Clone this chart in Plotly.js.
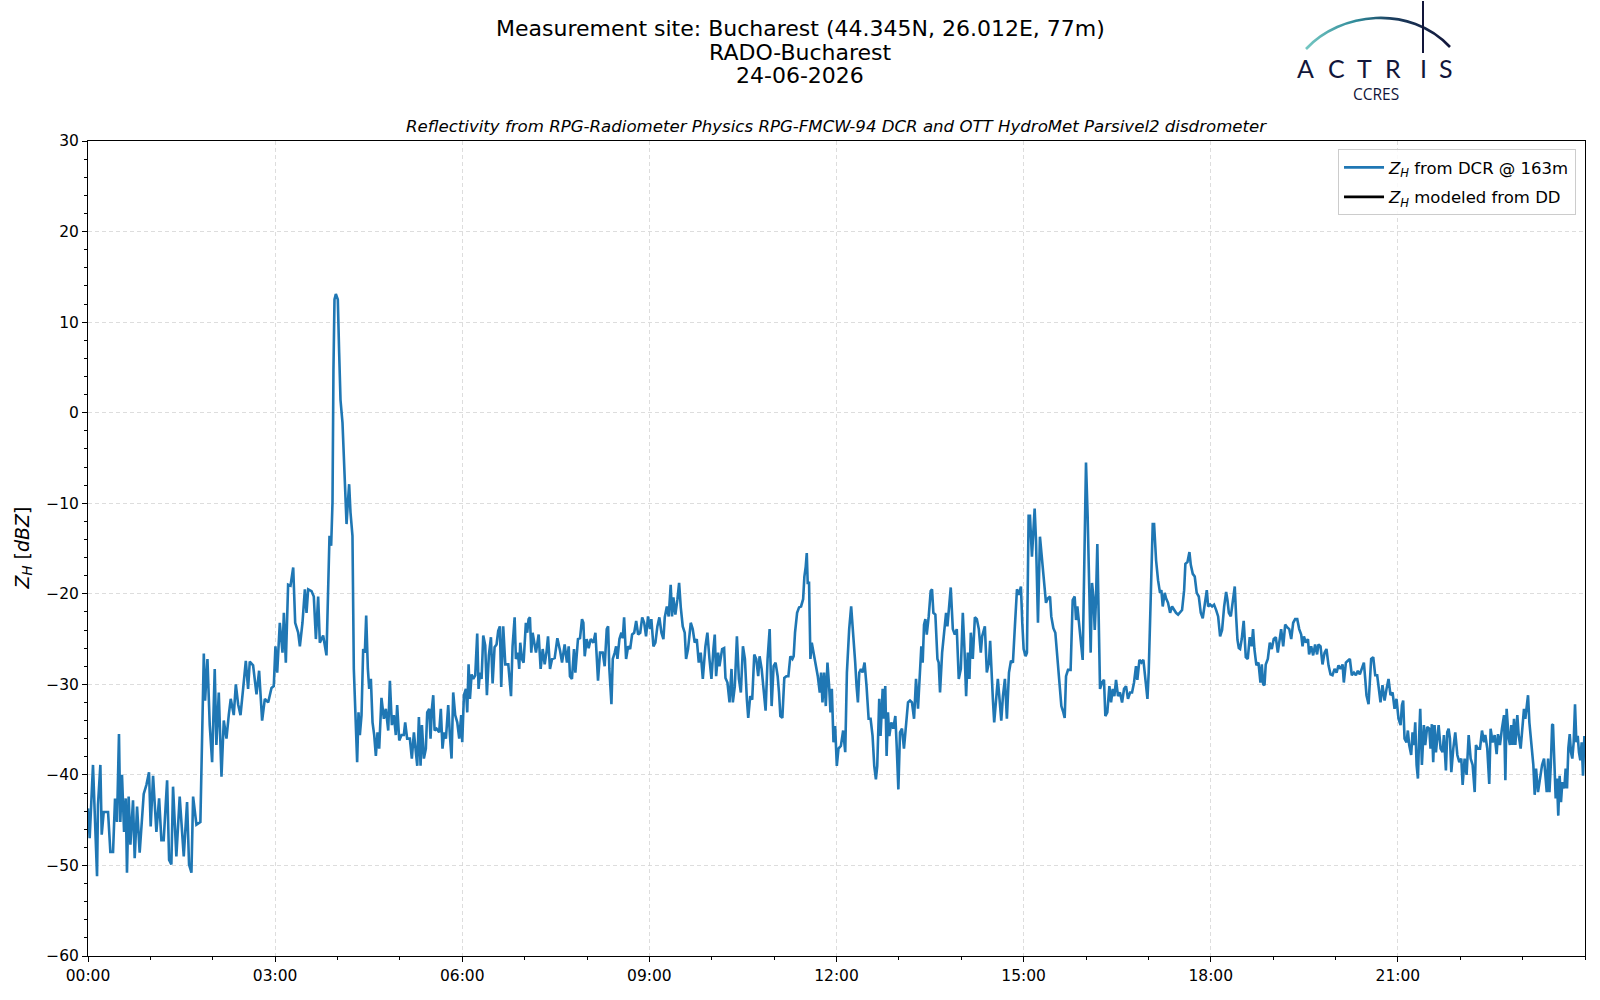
<!DOCTYPE html>
<html>
<head>
<meta charset="utf-8">
<script src="https://cdn.plot.ly/plotly-3.0.1.min.js"></script>
<style>
  html, body { margin: 0; padding: 0; background: #fff; }
  #chart { width: 1600px; height: 1000px; }
</style>
</head>
<body>
<div id="chart"></div>
<script>
// ===== Data =====
const DAY = '2026-06-24';

// minutes after 00:00 UTC
const timeMin = [
  0, 1.6, 4.8, 6.4, 8.7, 9.6, 11.9, 13.2, 15.1, 19.3,
  21.5, 24.1, 26.0, 27.9, 29.8, 31.1, 32.7, 34.7, 36.3, 37.5,
  39.1, 40.8, 43.3, 44.9, 47.2, 49.7, 53.6, 56.2, 58.7, 60.3,
  62.6, 65.8, 68.4, 70.6, 72.8, 76.1, 78.0, 80.2, 81.8, 85.0,
  88.2, 92.1, 95.3, 97.2, 99.5, 101.1, 104.3, 108.1, 109.4, 111.4,
  112.6, 114.9, 117.1, 119.4, 121.9, 123.5, 125.8, 128.4, 130.6, 133.2,
  135.4, 137.3, 140.2, 142.2, 144.4, 146.7, 149.2, 151.8, 154.0, 155.6,
  158.8, 162.1, 164.6, 167.5, 170.1, 173.3, 176.5, 178.7, 180.3, 182.0,
  184.5, 187.1, 188.4, 190.3, 192.5, 194.8, 197.4, 199.3, 202.2, 203.8,
  206.3, 208.6, 210.2, 211.8, 215.0, 217.2, 219.2, 221.4, 223.0, 226.2,
  229.4, 232.3, 233.9,
  235.2, 236.1, 237.1, 238.4, 240.3, 241.6, 242.9, 244.8, 246.1, 247.4,
  248.7, 250.0, 251.2, 252.5, 254.4, 255.7, 257.3, 258.9, 260.2, 261.5,
  263.1, 264.7, 266.3, 267.6, 269.2, 270.5, 272.1, 273.7, 275.3, 276.9,
  278.5, 280.1, 282.3, 284.6, 286.5, 288.8, 290.4, 292.3, 294.2, 296.1,
  297.4, 299.4, 301.6, 303.8, 305.1, 307.0, 309.6, 311.5, 313.5, 315.4,
  316.7, 318.3, 319.9, 321.2, 323.1, 325.0, 326.3, 328.2, 329.5, 330.8,
  332.1, 333.4, 335.3, 337.8, 339.4, 341.0, 342.6, 344.3, 346.5, 348.1,
  349.7, 351.3, 353.2, 355.2, 357.1, 359.0, 360.0, 361.6, 363.5, 364.8,
  366.1, 367.4, 369.0, 370.6, 372.5, 374.4, 375.7, 377.0, 378.6, 380.2,
  382.1, 383.7, 385.6, 387.6, 389.2, 391.1, 393.0, 394.6, 396.2, 397.5,
  399.4, 401.4, 404.3,
  406.9, 408.4, 410.4, 411.6, 413.6, 414.8, 415.8, 417.4, 419.0, 421.2,
  422.5, 423.8, 425.1, 426.4, 427.7, 429.7, 430.9, 433.5, 435.4, 437.4,
  439.3, 441.2, 442.5, 444.4, 446.4, 448.9, 451.5, 454.1, 456.0, 458.5,
  460.7, 462.4, 463.6, 465.5, 467.5, 468.8, 471.3, 473.3, 475.2, 476.5,
  477.8, 479.7, 481.6, 483.6, 486.1, 488.1, 490.6, 492.5, 495.1, 497.0,
  499.0, 500.3, 501.5, 503.5, 504.8, 506.7, 508.0, 509.3, 511.2, 513.1,
  514.4, 515.7, 517.6, 519.6, 521.5, 523.4, 525.4, 527.3, 529.2, 531.2,
  533.1, 535.0, 536.8, 538.7, 540.6, 541.9, 543.9, 545.8, 547.7, 549.6,
  551.6, 553.5, 554.8, 556.8, 558.6, 560.5, 561.8, 563.1, 565.0, 567.0,
  568.6, 570.2, 572.1, 574.0, 575.3, 577.2, 579.8, 581.7, 583.6, 585.6,
  587.5, 589.4, 591.4, 593.9, 595.8, 597.8, 599.7, 601.6, 602.9, 604.2,
  606.1, 607.4, 610.0, 611.9, 613.2, 615.1, 617.1, 619.0, 620.3, 622.2,
  624.2, 626.1, 628.0, 630.0, 631.9, 633.8, 635.1, 637.0, 638.9, 640.9,
  642.8, 644.7, 646.0, 648.0, 649.9, 651.8, 653.7, 655.7, 657.6, 659.5,
  661.4, 663.4, 664.7, 666.0, 667.9, 669.8, 671.8, 673.7, 675.6, 677.6,
  678.8, 680.1, 682.1, 684.0, 685.9, 687.9, 689.1, 690.4, 691.4, 692.3,
  693.6, 694.9, 696.2, 698.1, 700.0, 702.0,
  703.9, 705.2, 706.5, 708.1, 709.7, 711.3, 712.9, 714.2, 715.5, 717.1,
  718.7, 720.3, 721.9, 724.2, 726.4, 728.4, 730.0, 732.2, 734.1, 736.1,
  738.0, 739.3, 740.6, 741.9, 743.5, 745.1, 747.0, 748.9, 750.9, 752.8,
  754.7, 756.3, 757.9, 759.2, 761.1, 762.4, 764.4, 765.6, 766.9, 768.2,
  769.5, 770.8, 772.7, 774.6, 776.6, 777.9, 779.5, 781.1, 783.0, 784.9,
  786.9, 788.8, 790.7, 792.6, 794.6, 796.5, 798.4, 800.4, 801.6, 802.9,
  804.2, 805.5, 806.8, 808.7, 810.6, 811.9, 813.2, 815.1, 817.1, 818.3,
  819.6, 821.6, 823.5, 825.4, 826.7, 828.0, 829.9, 831.9, 833.8, 835.7,
  837.6, 839.6, 841.5, 843.1, 844.7, 846.3, 847.9, 849.2, 851.1, 853.1,
  855.0, 856.9, 858.8, 860.1, 862.7, 864.6, 866.6, 867.8, 869.1, 870.4,
  871.7, 873.6, 875.2, 876.8, 878.5, 880.1, 882.0, 883.9, 885.9, 887.8,
  889.7, 891.6, 893.6, 895.5, 897.4, 898.7, 900.0, 901.9, 903.2,
  904.8, 906.1, 908.0, 910.6, 911.9, 913.8, 915.7, 917.6, 919.6, 921.5,
  923.4, 925.4, 926.6, 928.6, 930.5, 932.4, 934.3, 936.3, 938.2, 939.5,
  940.8, 942.7, 945.2, 947.2, 949.1, 950.4, 951.7, 953.6, 955.5, 956.8,
  958.7, 960.0, 961.6, 963.2, 964.5, 965.8, 967.1, 968.4, 969.6, 970.9,
  972.2, 973.5, 975.4, 977.3, 978.6, 980.5, 982.5, 984.1, 985.7, 987.3,
  988.9, 990.8, 992.7, 994.7, 996.6, 998.5, 1000.4, 1002.4, 1004.3, 1006.2,
  1008.1, 1009.4, 1011.4, 1013.3, 1015.2, 1017.1, 1019.1, 1020.3, 1021.6, 1022.9,
  1024.2, 1025.5, 1027.4, 1029.3, 1031.2, 1032.5, 1033.8, 1035.7, 1037.0, 1038.9,
  1040.9, 1042.8, 1044.7, 1046.6, 1048.6, 1050.5, 1052.4, 1054.4, 1055.6, 1057.6,
  1059.5, 1060.8, 1062.7, 1064.6, 1066.5, 1068.5, 1070.4, 1072.3, 1074.2, 1076.2,
  1077.5, 1079.4, 1081.3, 1083.2, 1085.2, 1087.1, 1089.0, 1090.9, 1092.9, 1094.8,
  1096.1, 1097.4, 1099.3, 1101.2, 1103.1, 1104.4, 1105.7, 1107.0,
  1108.2, 1109.8, 1111.7, 1113.7, 1115.6, 1117.5, 1119.4, 1120.7, 1122.0, 1123.9,
  1125.9, 1127.8, 1129.1, 1130.4, 1131.7, 1132.9, 1134.9, 1136.8, 1138.7, 1140.6,
  1142.6, 1144.5, 1145.8, 1147.7, 1149.7, 1151.6, 1153.5, 1155.5, 1157.4, 1159.3,
  1161.2, 1163.2, 1165.1, 1167.0, 1168.3, 1169.6, 1171.5, 1173.5, 1174.6, 1176.6,
  1178.5, 1180.4, 1182.3, 1183.6, 1185.6, 1187.5, 1189.5, 1191.3, 1193.3, 1195.2,
  1197.1, 1199.1, 1201.0, 1202.9, 1204.9, 1206.8, 1208.0, 1210.0, 1211.9, 1213.8,
  1215.7, 1217.7, 1219.6, 1221.5, 1223.4, 1225.3, 1227.3, 1228.6, 1229.8, 1231.8,
  1233.0, 1234.3, 1236.3, 1238.2, 1240.1, 1241.4, 1243.3, 1245.2, 1247.2, 1249.1,
  1251.0, 1252.9, 1254.9, 1256.8, 1258.7, 1260.6, 1262.6, 1263.9, 1265.1, 1266.4,
  1268.3, 1269.6, 1270.9, 1272.8, 1274.1, 1275.4, 1276.7, 1278.0, 1279.3, 1280.5,
  1281.5, 1283.1, 1285.0, 1286.3, 1288.2, 1290.2, 1291.4, 1292.7, 1294.0, 1295.3,
  1296.6, 1297.9, 1299.2, 1301.1, 1303.0, 1304.3, 1306.2, 1307.5, 1308.8, 1310.1,
  1311.4, 1313.3, 1315.2, 1317.2, 1319.1, 1321.0, 1322.3, 1324.2, 1326.1, 1328.1,
  1330.0, 1331.9, 1333.9, 1335.1, 1337.0, 1339.0, 1340.9, 1342.8, 1344.1, 1346.0,
  1347.9, 1349.2, 1351.1, 1353.1, 1355.0, 1356.3, 1358.2, 1360.1, 1362.1, 1363.4,
  1364.6, 1366.6, 1367.8, 1369.1, 1370.4, 1371.7, 1373.0, 1374.9, 1376.2, 1378.1,
  1379.4, 1381.3, 1382.6, 1383.9, 1385.2, 1386.5, 1388.4, 1390.3, 1391.6, 1392.9,
  1394.8, 1396.7, 1398.7, 1400.6, 1401.9, 1403.2, 1404.5, 1405.8, 1407.1, 1408.4,
  1409.2, 1410.5, 1411.8, 1413.0, 1414.3, 1415.6, 1416.9, 1418.2, 1420.1, 1421.4,
  1422.7, 1424.0, 1425.3, 1426.5, 1427.8, 1429.1, 1430.4, 1431.7, 1433.0, 1434.2,
  1435.5, 1436.8, 1438.1, 1439.4,
];

// Z_H from DCR @ 163m, dBZ
const zhDcr = [
  -43.7, -47.0, -38.9, -44.8, -51.2, -43.3, -38.9, -46.6, -44.1, -44.1,
  -48.5, -48.5, -42.6, -45.2, -35.5, -45.2, -40.0, -46.3, -42.6, -50.8,
  -42.4, -47.7, -42.8, -49.2, -43.5, -48.6, -42.1, -41.1, -39.7, -45.7,
  -40.1, -46.3, -42.6, -47.2, -47.2, -40.6, -49.4, -49.9, -41.3, -49.0,
  -42.4, -49.0, -43.0, -49.9, -50.8, -42.4, -45.5, -45.2, -37.8, -26.6,
  -31.8, -27.2, -34.5, -38.6, -28.3, -36.7, -30.9, -40.2, -34.0, -36.0,
  -33.4, -31.6, -33.4, -30.0, -32.2, -33.4, -30.5, -27.4, -30.5, -27.5,
  -27.9, -31.1, -28.5, -34.0, -31.6, -32.0, -30.4, -30.2, -25.8, -28.7,
  -23.2, -26.5, -22.1, -27.6, -19.0, -19.1, -17.1, -23.2, -24.3, -25.8,
  -23.2, -19.5, -22.1, -19.5, -19.7, -20.3, -25.0, -20.3, -25.4, -24.6,
  -26.8, -13.6, -14.7,
  -9.9, 4.7, 12.5, 13.1, 12.5, 6.6, 1.4, -1.1, -5.5, -9.6,
  -12.3, -9.9, -7.9, -11.0, -13.6, -28.3, -34.9, -38.6, -33.1, -35.6,
  -33.4, -26.1, -26.5, -22.4, -28.3, -30.5, -29.4, -34.2, -35.6, -37.9,
  -35.3, -37.1, -31.5, -33.8, -32.7, -35.1, -29.6, -34.5, -33.4, -35.6,
  -32.3, -36.2, -35.6, -35.6, -34.2, -36.0, -36.0, -38.2, -35.3, -37.5,
  -39.0, -33.6, -39.0, -34.5, -38.2, -37.1, -33.1, -32.7, -36.0, -32.7,
  -31.2, -35.1, -34.9, -35.3, -32.7, -37.1, -35.3, -36.0, -32.3, -35.6,
  -38.2, -30.9, -33.4, -34.2, -36.0, -33.4, -36.4, -31.2, -30.5, -33.1,
  -27.8, -31.6, -28.9, -29.4, -29.0, -24.4, -30.5, -28.7, -29.4, -24.6,
  -25.7, -31.2, -26.8, -24.8, -29.9, -25.9, -25.6, -24.1, -23.6, -30.3,
  -23.6, -27.8, -27.8,
  -31.3, -25.8, -22.6, -27.2, -26.5, -28.3, -25.4, -27.2, -27.6, -23.2,
  -24.3, -22.8, -22.6, -26.5, -24.3, -25.8, -26.5, -24.5, -28.3, -26.1,
  -27.8, -26.3, -24.7, -28.3, -27.2, -27.1, -24.9, -26.3, -27.6, -25.6,
  -27.6, -25.8, -29.1, -29.4, -26.1, -28.7, -25.0, -24.9, -22.8, -23.2,
  -26.9, -25.0, -26.0, -25.0, -25.4, -24.3, -29.6, -26.5, -26.5, -28.0,
  -23.9, -23.6, -28.3, -32.2, -27.2, -26.5, -25.8, -27.2, -25.0, -24.3,
  -24.9, -22.6, -27.2, -25.8, -26.1, -24.5, -24.3, -23.0, -24.5, -24.3,
  -22.6, -23.2, -24.7, -22.5, -23.9, -22.8, -25.8, -25.4, -23.6, -22.6,
  -24.3, -25.0, -22.6, -21.4, -22.5, -19.0, -22.5, -20.4, -22.3, -20.6,
  -18.8, -21.5, -23.6, -24.3, -27.2, -26.1, -23.2, -23.9, -25.4, -25.0,
  -27.6, -26.5, -29.4, -25.8, -24.3, -27.2, -29.4, -26.1, -24.5, -29.1,
  -26.5, -28.0, -26.1, -26.0, -29.3, -29.8, -32.0, -28.3, -32.0, -30.2,
  -24.7, -29.4, -30.9, -25.8, -27.2, -31.7, -33.7, -31.3, -31.7, -26.7,
  -27.2, -29.1, -26.9, -28.3, -30.9, -32.9, -27.2, -23.9, -32.4, -28.0,
  -27.6, -29.1, -30.9, -33.5, -33.7, -29.3, -29.1, -29.1, -26.9, -27.2,
  -26.9, -24.3, -22.1, -21.5, -21.4, -20.6, -18.1, -17.0, -15.5, -18.8,
  -18.8, -27.2, -25.4, -26.5, -28.0, -29.1,
  -30.9, -28.7, -32.0, -28.7, -32.4, -27.6, -30.2, -33.1, -30.5, -36.4,
  -34.6, -39.0, -37.1, -36.8, -35.1, -37.5, -28.7, -23.9, -21.4, -24.3,
  -27.6, -30.2, -32.0, -28.7, -28.3, -28.7, -27.6, -30.2, -33.8, -33.8,
  -35.7, -39.0, -40.5, -39.0, -31.6, -35.7, -30.5, -33.8, -30.2, -37.9,
  -33.1, -35.7, -34.2, -34.9, -33.5, -36.8, -41.6, -35.3, -34.9, -37.1,
  -34.6, -32.0, -31.8, -32.0, -33.8, -29.4, -32.7, -28.0, -25.8, -27.6,
  -23.4, -22.8, -24.5, -22.5, -19.7, -19.5, -22.1, -22.3, -27.2, -27.6,
  -30.9, -26.5, -24.3, -22.1, -23.6, -22.1, -19.3, -23.9, -24.5, -23.9,
  -29.4, -28.3, -22.1, -26.1, -31.3, -26.5, -29.4, -24.3, -27.2, -22.6,
  -22.8, -23.9, -26.5, -24.7, -23.6, -28.7, -27.6, -25.2, -29.1, -31.6,
  -34.2, -32.0, -29.4, -31.6, -34.0, -31.3, -29.4, -33.8, -28.7, -27.4,
  -27.6, -23.6, -19.5, -20.1, -19.2, -23.2, -26.1, -26.9, -26.5,
  -11.4, -11.4, -15.9, -10.6, -14.1, -23.2, -13.7, -16.3, -18.5, -21.0,
  -20.5, -20.3, -22.5, -23.8, -24.3, -26.9, -29.1, -32.4, -33.1, -33.7,
  -29.1, -28.4, -28.4, -20.7, -20.3, -22.9, -21.4, -24.0, -25.8, -27.3,
  -14.1, -5.5, -11.5, -21.4, -26.5, -18.8, -20.3, -24.0, -20.7, -14.5,
  -23.6, -30.5, -29.8, -29.5, -33.5, -33.1, -30.2, -32.0, -30.5, -31.3,
  -29.5, -31.3, -30.9, -32.0, -30.5, -30.2, -31.6, -30.9, -30.9, -29.8,
  -28.0, -29.5, -27.3, -27.6, -27.3, -29.8, -31.6, -28.7, -23.2, -15.9,
  -12.3, -12.3, -16.3, -18.5, -19.9, -19.6, -21.4, -19.9, -20.5, -21.0,
  -22.1, -21.4, -21.8, -22.1, -22.3, -22.1, -21.8, -19.6, -16.7, -16.5,
  -15.4, -16.8, -17.8, -18.1, -19.9, -20.3, -22.1, -22.7, -21.0, -19.6,
  -21.4, -21.2, -21.4, -21.2, -21.8, -22.5, -24.7, -24.0, -21.4, -19.8,
  -20.7, -22.1, -22.5, -20.7, -19.2, -22.5, -25.1, -26.0,
  -26.1, -25.0, -23.0, -27.0, -27.2, -24.8, -25.8, -23.9, -26.1, -27.9,
  -27.6, -29.8, -27.8, -30.0, -30.1, -27.8, -27.2, -25.4, -26.1, -25.0,
  -24.8, -26.5, -25.4, -23.9, -25.8, -23.4, -23.7, -23.9, -25.0, -23.2,
  -22.8, -22.8, -23.9, -24.5, -25.8, -24.7, -25.4, -25.0, -26.7, -25.8,
  -26.8, -25.6, -26.7, -25.6, -25.8, -27.8, -26.5, -26.1, -27.9, -28.9,
  -29.0, -28.3, -28.7, -27.9, -28.3, -27.8, -29.8, -27.6, -27.4, -27.2,
  -29.0, -28.7, -29.0, -28.5, -28.9, -28.3, -27.6, -29.4, -31.2, -32.2,
  -29.8, -27.2, -27.0, -29.0, -29.0, -30.1, -32.0, -30.1, -31.8, -30.5,
  -29.4, -31.2, -30.9, -32.7, -31.6, -33.8, -34.5, -32.3, -31.8, -36.0,
  -36.4, -35.1, -36.7, -37.8, -35.3, -36.7, -34.2, -38.9, -40.4, -35.6,
  -32.7, -38.9, -34.5, -36.7, -34.7, -34.9, -37.1, -34.4, -38.6, -34.5,
  -37.5, -36.0, -34.5, -37.1, -37.5, -35.6, -39.5, -35.3, -34.9, -36.0,
  -39.7, -37.1, -35.3, -37.8, -38.6, -38.2, -41.1, -38.2, -40.0, -35.6,
  -38.2, -38.9, -41.9, -36.7, -37.1, -37.1, -35.1, -36.4, -35.6, -37.1,
  -41.0, -34.9, -36.4, -35.6, -37.7, -35.5, -36.7, -34.9, -33.4, -40.6,
  -32.7, -36.0, -36.7, -34.5, -36.7, -33.8, -36.7, -33.4, -35.6, -37.1,
  -35.3, -32.7, -33.8, -32.3, -31.2, -34.2, -37.1, -38.9, -42.2, -39.3,
  -41.9, -40.4, -38.9, -38.2, -40.0, -41.9, -38.2, -41.9, -38.9, -34.5,
  -34.4, -39.3, -42.6, -40.4, -44.5, -40.1, -43.0, -40.8, -41.5, -39.3,
  -41.5, -37.0, -35.5, -37.5, -38.2, -36.4, -32.2, -36.4, -35.7, -37.5,
  -38.4, -36.4, -40.1, -35.7,
];

// Z_H modeled from the disdrometer: no values on this day
const zhModeled = [];
const timeModeled = [];

const xTickLabels = ['00:00', '03:00', '06:00', '09:00', '12:00', '15:00', '18:00', '21:00'];

// ===== Helpers =====
function stamp(min) {
  const s = Math.round(min * 60);
  const hh = String(Math.floor(s / 3600)).padStart(2, '0');
  const mm = String(Math.floor((s % 3600) / 60)).padStart(2, '0');
  const ss = String(s % 60).padStart(2, '0');
  return `${DAY} ${hh}:${mm}:${ss}`;
}

// figure pixels -> paper coords (plot area is 88..1585 x 141..956)
const M = { l: 88, r: 15, t: 141, b: 44 };
const W = 1600, H = 1000;
const PW = W - M.l - M.r, PH = H - M.t - M.b;
const px = (x) => (x - M.l) / PW;
const py = (y) => (H - M.b - y) / PH;

const FONT = 'DejaVu Sans, Liberation Sans, sans-serif';
const NAVY = '#12163a';
const zhLabel = '<i>Z</i><sub><i>H</i></sub>';

// an empty series still needs one gap point to keep its legend entry
const orGap = (arr) => (arr.length ? arr : [null]);

// ===== Traces =====
const traces = [
  {
    x: timeMin.map(stamp), y: zhDcr,
    type: 'scatter', mode: 'lines',
    name: `${zhLabel} from DCR @ 163m`,
    legendgroup: 'dcr',
    line: { color: '#1f77b4', width: 2.6 },
  },
  {
    x: orGap(timeModeled.map(stamp)), y: orGap(zhModeled),
    type: 'scatter', mode: 'lines',
    name: `${zhLabel} modeled from DD`,
    legendgroup: 'dd',
    line: { color: '#000000', width: 2.6 },
  },
];

// ===== ACTRIS logo (arc + mast drawn as svg, letters as text) =====
const logoSvg =
  '<svg xmlns="http://www.w3.org/2000/svg" width="155" height="55" viewBox="0 0 155 55">' +
  '<defs><linearGradient id="g" x1="0" y1="0" x2="1" y2="0">' +
  '<stop offset="0" stop-color="#74c7c2"/><stop offset="0.35" stop-color="#2f8a99"/>' +
  '<stop offset="0.6" stop-color="#1b3d5e"/><stop offset="1" stop-color="#12163a"/></linearGradient></defs>' +
  '<path d="M 6 49 C 40 12, 110 4, 150 47" fill="none" stroke="url(#g)" stroke-width="2.6"/>' +
  '<line x1="123" y1="1" x2="123" y2="53" stroke="#12163a" stroke-width="2"/>' +
  '</svg>';

const logoLetters = ['A', 'C', 'T', 'R', 'I', 'S'];
const logoLetterX = [1305, 1336, 1364, 1393, 1423, 1446];

const annotations = [
  // figure title (three lines, centred on the figure)
  ...['Measurement site: Bucharest (44.345N, 26.012E, 77m)', 'RADO-Bucharest', '24-06-2026']
    .map((t, i) => ({
      text: t, xref: 'paper', yref: 'paper', x: px(800), y: py(29 + i * 23.3),
      xanchor: 'center', yanchor: 'middle', showarrow: false,
      font: { family: FONT, size: 22, color: '#000' },
    })),
  // axes title
  {
    text: '<i>Reflectivity from RPG-Radiometer Physics RPG-FMCW-94 DCR and OTT HydroMet Parsivel2 disdrometer</i>',
    xref: 'paper', yref: 'paper', x: 0.5, y: py(126), xanchor: 'center', yanchor: 'middle',
    showarrow: false, font: { family: FONT, size: 16.6, color: '#000' },
  },
  // y label
  {
    text: `${zhLabel} [<i>dBZ</i>]`, textangle: -90,
    xref: 'paper', yref: 'paper', x: px(23), y: 0.5, xanchor: 'center', yanchor: 'middle',
    showarrow: false, font: { family: FONT, size: 19, color: '#000' },
  },
  ...logoLetters.map((l, i) => ({
    text: l, xref: 'paper', yref: 'paper', x: px(logoLetterX[i]), y: py(67.5),
    xanchor: 'center', yanchor: 'middle', showarrow: false, borderpad: 0,
    font: { family: 'Lato, Open Sans, sans-serif', size: 25, color: NAVY },
  })),
  {
    text: 'CCRES', xref: 'paper', yref: 'paper', x: px(1376), y: py(94),
    xanchor: 'center', yanchor: 'middle', showarrow: false, borderpad: 0,
    font: { family: 'Open Sans, sans-serif', size: 15.5, color: NAVY },
  },
];

// ===== Layout =====
const axisCommon = {
  showline: true, linecolor: '#000', linewidth: 1, mirror: true,
  ticks: 'outside', ticklen: 5, tickwidth: 1, tickcolor: '#000',
  tickfont: { family: FONT, size: 15.5, color: '#000' },
  showgrid: true, gridcolor: '#d4d4d4', gridwidth: 0.8, griddash: '4px,3px',
  zeroline: false,
};

const layout = {
  width: W, height: H,
  paper_bgcolor: '#ffffff', plot_bgcolor: '#ffffff',
  margin: M,
  font: { family: FONT, color: '#000' },
  showlegend: true,
  legend: {
    x: 0.994, y: 0.99, xanchor: 'right', yanchor: 'top',
    bgcolor: 'rgba(255,255,255,0.85)', bordercolor: '#cccccc', borderwidth: 1,
    font: { family: FONT, size: 16.5, color: '#000' },
    itemwidth: 40, tracegroupgap: 5,
  },
  xaxis: {
    ...axisCommon,
    type: 'date',
    range: [`${DAY} 00:00:00`, '2026-06-25 00:00:00'],
    tickmode: 'array',
    tickvals: xTickLabels.map((t) => `${DAY} ${t}`),
    ticktext: xTickLabels,
    minor: {
      tickmode: 'linear', tick0: `${DAY} 00:00:00`, dtick: 3600000,
      ticks: 'outside', ticklen: 3, tickcolor: '#000', showgrid: false,
    },
  },
  yaxis: {
    ...axisCommon,
    range: [-60, 30],
    tickmode: 'linear', tick0: -60, dtick: 10,
    minor: { tickmode: 'linear', dtick: 2, ticks: 'outside', ticklen: 3, tickcolor: '#000', showgrid: false },
  },
  images: [{
    source: 'data:image/svg+xml;charset=utf-8,' + encodeURIComponent(logoSvg),
    xref: 'paper', yref: 'paper', x: px(1300), y: py(0),
    sizex: 155 / PW, sizey: 55 / PH, xanchor: 'left', yanchor: 'top',
    sizing: 'stretch', layer: 'above',
  }],
  annotations,
};

Plotly.newPlot('chart', traces, layout, { displayModeBar: false, staticPlot: true });
</script>
</body>
</html>
